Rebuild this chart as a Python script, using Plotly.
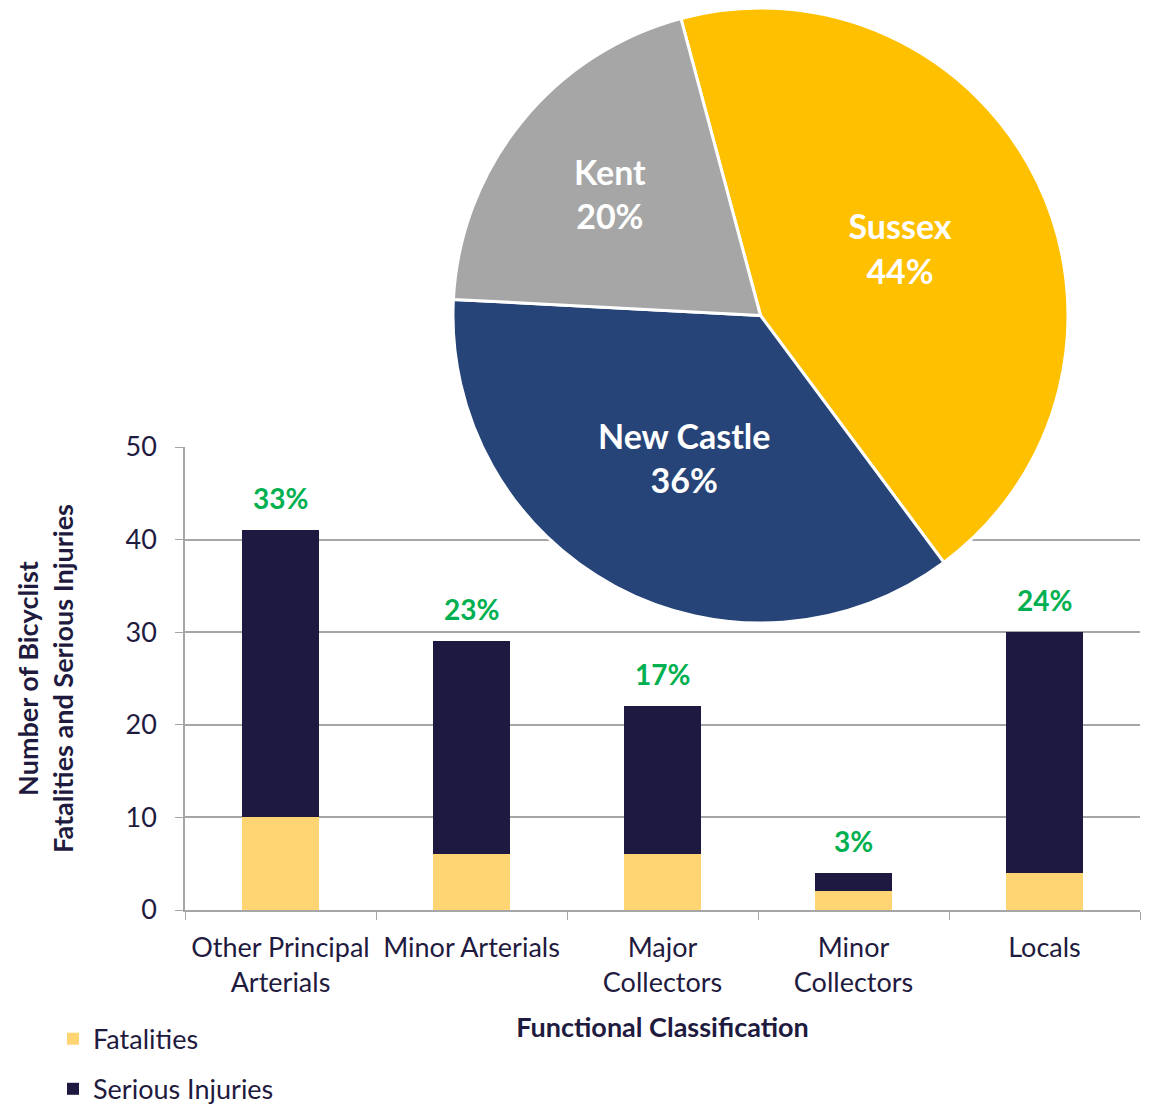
import plotly.graph_objects as go

# bar data
categories = ["Other Principal<br>Arterials", "Minor Arterials", "Major<br>Collectors",
              "Minor<br>Collectors", "Locals"]
fatalities = [10, 6, 6, 2, 4]
serious_injuries = [31, 23, 16, 2, 26]
share_labels = ["33%", "23%", "17%", "3%", "24%"]

# pie data
counties = ["Sussex", "New Castle", "Kent"]
county_share = [44, 36, 20]

_font = "Lato"
_text = "#1F1B3F"
_grid = "#A6A6A6"
W, H = 1153, 1105
OFF = 8  # page body margin

fig = go.Figure()

fig.add_trace(
    go.Bar(
        x=categories,
        y=fatalities,
        name="Fatalities",
        marker=dict(color="#FED572", line=dict(width=0)),
        width=0.4,
        legendgroup="f",
    )
)
fig.add_trace(
    go.Bar(
        x=categories,
        y=serious_injuries,
        name="Serious Injuries",
        marker=dict(color="#1E1941", line=dict(width=0)),
        width=0.4,
        legendgroup="s",
    )
)

# pie sits on top of the bar chart
fig.add_trace(
    go.Pie(
        labels=counties,
        values=county_share,
        sort=False,
        direction="clockwise",
        rotation=-15,
        marker=dict(colors=["#FFC000", "#264478", "#A6A6A6"],
                    line=dict(color="white", width=3)),
        textinfo="label+percent",
        texttemplate="%{label}<br>%{percent:.0%}",
        textposition="inside",
        insidetextorientation="horizontal",
        textfont=dict(family=_font, size=34, color="white", weight="bold"),
        domain=dict(x=[(453 - OFF) / W, (1068 - OFF) / W],
                    y=[(H - 623 + OFF) / H, 1.0]),
        showlegend=False,
        hoverinfo="label+percent",
    )
)

# percentage labels above bars
annotations = []
for c, f, s, t in zip(categories, fatalities, serious_injuries, share_labels):
    annotations.append(
        dict(
            x=c,
            y=f + s,
            xref="x",
            yref="y",
            text=t,
            showarrow=False,
            yanchor="bottom",
            yshift=13,
            font=dict(family=_font, size=28, color="#00B050", weight="bold"),
        )
    )

fig.update_layout(
    width=W,
    height=H,
    barmode="stack",
    paper_bgcolor="white",
    plot_bgcolor="white",
    font=dict(family=_font, size=27, color=_text),
    margin=dict(l=0, r=0, t=0, b=0, autoexpand=False),
    xaxis=dict(
        domain=[(185 - OFF) / W, (1140 - OFF) / W],
        showline=True,
        linecolor=_grid,
        linewidth=1.5,
        ticks="outside",
        tickson="boundaries",
        ticklen=8,
        tickcolor=_grid,
        showgrid=False,
        ticklabelstandoff=13,
        tickfont=dict(family=_font, size=27, color=_text),
        title=dict(
            text="Functional Classification",
            font=dict(family=_font, size=27, color=_text, weight="bold"),
            standoff=21,
        ),
    ),
    yaxis=dict(
        domain=[(H - 910 + OFF) / H, (H - 447 + OFF) / H],
        range=[0, 50],
        dtick=10,
        showline=True,
        linecolor=_grid,
        linewidth=1.5,
        ticks="outside",
        ticklen=8,
        tickcolor=_grid,
        showgrid=True,
        gridcolor=_grid,
        gridwidth=1.5,
        zeroline=False,
        ticklabelstandoff=13,
        tickfont=dict(family=_font, size=27, color=_text),
        title=dict(
            text="Number of Bicyclist<br>Fatalities and Serious Injuries",
            font=dict(family=_font, size=27, color=_text, weight="bold"),
            standoff=44,
        ),
    ),
    showlegend=True,
    legend=dict(
        orientation="v",
        x=(53 - OFF) / W,
        xanchor="left",
        y=0.089,
        yanchor="top",
        traceorder="grouped",
        tracegroupgap=12,
        font=dict(family=_font, size=27, color=_text),
        itemwidth=30,
        bgcolor="rgba(0,0,0,0)",
    ),
    annotations=annotations,
)

fig.write_html("out.html")
